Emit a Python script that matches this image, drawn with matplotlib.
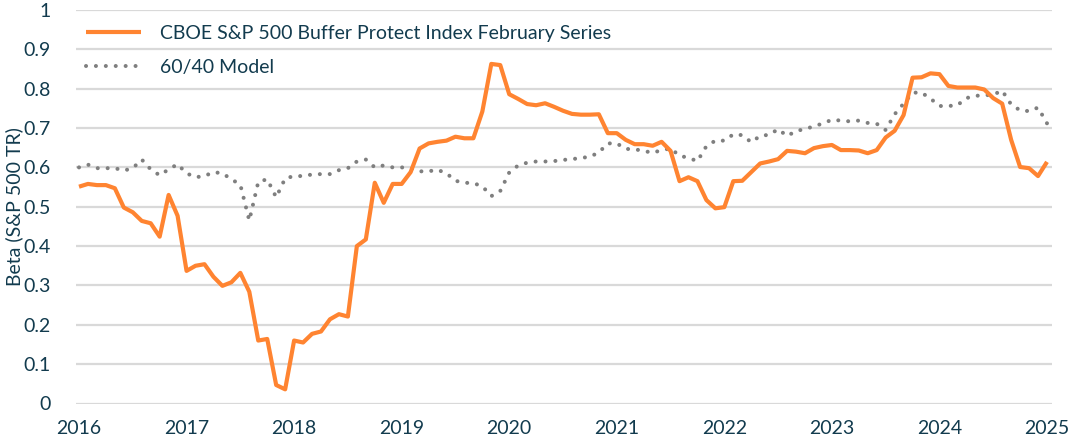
import numpy as np
import matplotlib
matplotlib.use("Agg")
import matplotlib.pyplot as plt
from matplotlib.ticker import FuncFormatter

# Monthly data, Jan 2016 .. Jan 2025
start_year = 2016
buffer_beta = [
    0.551, 0.558, 0.555, 0.555, 0.547, 0.498, 0.486, 0.464, 0.458, 0.424, 0.530, 0.477,
    0.337, 0.350, 0.354, 0.322, 0.299, 0.308, 0.332, 0.284, 0.160, 0.164, 0.047, 0.036,
    0.160, 0.155, 0.177, 0.183, 0.214, 0.227, 0.221, 0.400, 0.417, 0.561, 0.510, 0.558,
    0.558, 0.588, 0.648, 0.661, 0.665, 0.668, 0.678, 0.674, 0.674, 0.742, 0.863, 0.860,
    0.786, 0.774, 0.761, 0.758, 0.763, 0.754, 0.744, 0.736, 0.734, 0.734, 0.735, 0.687,
    0.687, 0.670, 0.659, 0.659, 0.655, 0.665, 0.642, 0.565, 0.575, 0.565, 0.517, 0.496,
    0.499, 0.565, 0.566, 0.588, 0.610, 0.615, 0.621, 0.642, 0.640, 0.636, 0.649, 0.654,
    0.657, 0.644, 0.644, 0.643, 0.636, 0.644, 0.676, 0.693, 0.733, 0.828, 0.829, 0.839,
    0.837, 0.807, 0.803, 0.803, 0.803, 0.798, 0.776, 0.762, 0.670, 0.601, 0.598, 0.578,
    0.614,
]
model_beta = [
    0.600, 0.607, 0.598, 0.598, 0.598, 0.592, 0.598, 0.620, 0.595, 0.580, 0.595, 0.608,
    0.585, 0.575, 0.578, 0.588, 0.585, 0.570, 0.556, 0.465, 0.563, 0.570, 0.524, 0.572,
    0.578, 0.578, 0.582, 0.583, 0.583, 0.593, 0.598, 0.615, 0.620, 0.600, 0.605, 0.600,
    0.600, 0.598, 0.590, 0.590, 0.594, 0.585, 0.566, 0.561, 0.560, 0.552, 0.527, 0.540,
    0.587, 0.605, 0.612, 0.615, 0.615, 0.616, 0.619, 0.621, 0.624, 0.627, 0.638, 0.661,
    0.661, 0.647, 0.646, 0.642, 0.637, 0.644, 0.648, 0.630, 0.624, 0.616, 0.654, 0.668,
    0.668, 0.684, 0.682, 0.664, 0.680, 0.683, 0.697, 0.680, 0.692, 0.698, 0.704, 0.712,
    0.721, 0.719, 0.717, 0.719, 0.713, 0.711, 0.695, 0.735, 0.762, 0.790, 0.790, 0.775,
    0.756, 0.756, 0.758, 0.776, 0.782, 0.783, 0.785, 0.795, 0.760, 0.745, 0.743, 0.752,
    0.712,
]
series_names = ["CBOE S&P 500 Buffer Protect Index February Series", "60/40 Model"]
year_ticks = list(range(2016, 2026))
y_ticks = [round(0.1 * k, 1) for k in range(11)]
y_label = "Beta (S&P 500 TR)"

x = start_year + np.arange(len(buffer_beta)) / 12.0

TEXT = "#123B4E"
ORANGE = "#FF8431"
GRAY = "#7F7F7F"
GRID = "#D9D9D9"
FS = 14

plt.rcParams["font.family"] = ["Lato", "DejaVu Sans"]

fig = plt.figure(figsize=(10.72, 4.38), dpi=100)
ax = fig.add_axes([76 / 1072, 1 - 403.5 / 438, (1052 - 76) / 1072, (403.5 - 10) / 438])

ax.plot(x, buffer_beta, color=ORANGE, lw=3.0, solid_joinstyle="round",
        solid_capstyle="butt", label=series_names[0], zorder=3)
ax.plot(x, model_beta, color=GRAY, lw=2.9, linestyle=(0, (0.01, 2.45)),
        dash_capstyle="round", label=series_names[1], zorder=2)

ax.set_xlim(2016 - 3.0 / 107.55, 2025 + 5.0 / 107.55)
ax.set_ylim(0, 1)
ax.set_xticks(year_ticks)
ax.set_xticklabels([str(y) for y in year_ticks])
ax.set_yticks(y_ticks)
ax.yaxis.set_major_formatter(FuncFormatter(lambda v, p: "0" if v == 0 else ("1" if v == 1 else f"{v:g}")))

ax.grid(axis="y", color=GRID, lw=1.6)
ax.set_axisbelow(True)
for s in ax.spines.values():
    s.set_visible(False)
ax.tick_params(axis="both", length=0, labelsize=FS, colors=TEXT)
ax.tick_params(axis="y", pad=18)
ax.tick_params(axis="x", pad=12)
ax.set_ylabel(y_label, fontsize=FS, color=TEXT, va="center")
ax.yaxis.set_label_coords(-62 / 976, 0.5)

leg = ax.legend(loc="upper left", bbox_to_anchor=(86 / 1072, 1 - 25 / 438),
                bbox_transform=fig.transFigure, frameon=False, fontsize=FS,
                handlelength=2.85, handletextpad=0.95, labelspacing=0.85,
                borderpad=0, borderaxespad=0)
for t in leg.get_texts():
    t.set_color(TEXT)

fig.savefig("out.png", dpi=100, facecolor="white")
